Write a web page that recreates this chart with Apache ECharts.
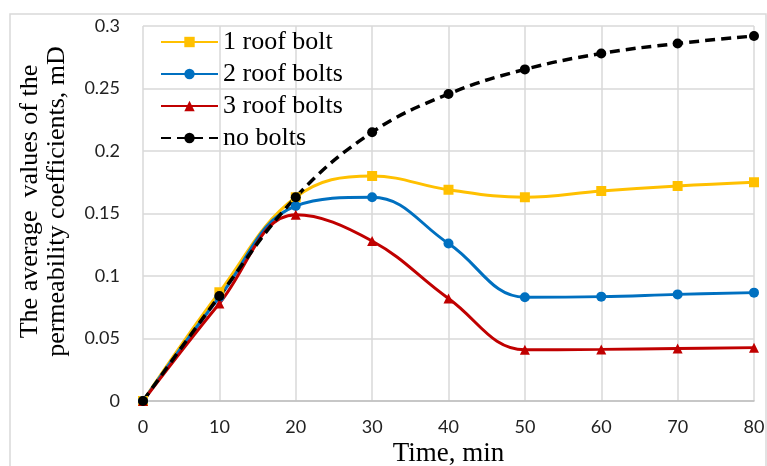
<!DOCTYPE html>
<html>
<head>
<meta charset="utf-8">
<script src="https://cdn.jsdelivr.net/npm/echarts@6/dist/echarts.min.js"></script>
<style>
  html, body { margin: 0; padding: 0; background: #fff; }
  #chart { width: 767px; height: 466px; }
</style>
</head>
<body>
<div id="chart"></div>
<script>
// values
var times = [0, 10, 20, 30, 40, 50, 60, 70, 80];
var oneBolt = [0, 0.087, 0.163, 0.18, 0.169, 0.163, 0.168, 0.172, 0.175];
var twoBolts = [0, 0.083, 0.156, 0.163, 0.126, 0.083, 0.0835, 0.0853, 0.0867];
var threeBolts = [0, 0.078, 0.149, 0.128, 0.082, 0.041, 0.0413, 0.042, 0.0427];
var noBolts = [0, 0.084, 0.163, 0.215, 0.2456, 0.2653, 0.278, 0.286, 0.292];

var serif = "Liberation Serif";
var sans = "Lato";

function pairs(ys) {
    return ys.map(function (v, i) { return [times[i], v]; });
}

function mkSeries(name, ys, color, symbol, size, dashed) {
    return {
        name: name,
        type: "line",
        data: pairs(ys),
        smooth: 0.4,
        symbol: symbol,
        symbolSize: size,
        itemStyle: {color: color},
        lineStyle: {color: color, width: dashed ? 3.5 : 3, type: dashed ? [10, 6] : "solid"}
    };
}

var chart = echarts.init(document.getElementById("chart"));
chart.setOption({
    animation: false,
    graphic: [{
        type: "rect",
        shape: {x: 10, y: 14, width: 756, height: 460},
        style: {fill: "none", stroke: "#d9d9d9", lineWidth: 1.5},
        z: -1
    }],
    grid: {left: 143, right: 13, top: 26, bottom: 65, containLabel: false, outerBoundsMode: "none"},
    legend: {
        orient: "vertical",
        left: 155,
        top: 24,
        itemWidth: 57,
        itemHeight: 13,
        itemGap: 6,
        textStyle: {fontFamily: serif, fontSize: 26, color: "#000"},
        data: ["1 roof bolt", "2 roof bolts", "3 roof bolts", "no bolts"]
    },
    xAxis: {
        type: "value",
        min: 0, max: 80, interval: 10,
        name: "Time, min",
        nameLocation: "middle",
        nameGap: 39,
        nameTextStyle: {fontFamily: serif, fontSize: 27, color: "#000"},
        axisLine: {show: true, lineStyle: {color: "#bfbfbf", width: 1.5}},
        axisTick: {show: false},
        axisLabel: {fontFamily: sans, fontSize: 18, color: "#222", margin: 17},
        splitLine: {show: true, lineStyle: {color: "#d9d9d9", width: 1.5}}
    },
    yAxis: {
        type: "value",
        min: 0, max: 0.3, interval: 0.05,
        name: "The average  values of the\npermeability coefficients, mD",
        nameLocation: "middle",
        nameRotate: 90,
        nameGap: 72,
        nameTextStyle: {fontFamily: serif, fontSize: 26, color: "#000", lineHeight: 27, padding: [0, 0, 0, 24]},
        axisLine: {show: false},
        axisTick: {show: false},
        axisLabel: {fontFamily: sans, fontSize: 18, color: "#222", margin: 23},
        splitLine: {show: true, lineStyle: {color: "#d9d9d9", width: 1.5}}
    },
    series: [
        mkSeries("1 roof bolt", oneBolt, "#FFC000", "rect", 10, false),
        mkSeries("2 roof bolts", twoBolts, "#0070C0", "circle", 10, false),
        mkSeries("3 roof bolts", threeBolts, "#C00000", "triangle", 10, false),
        mkSeries("no bolts", noBolts, "#000000", "circle", 10, true)
    ]
});
</script>
</body>
</html>
